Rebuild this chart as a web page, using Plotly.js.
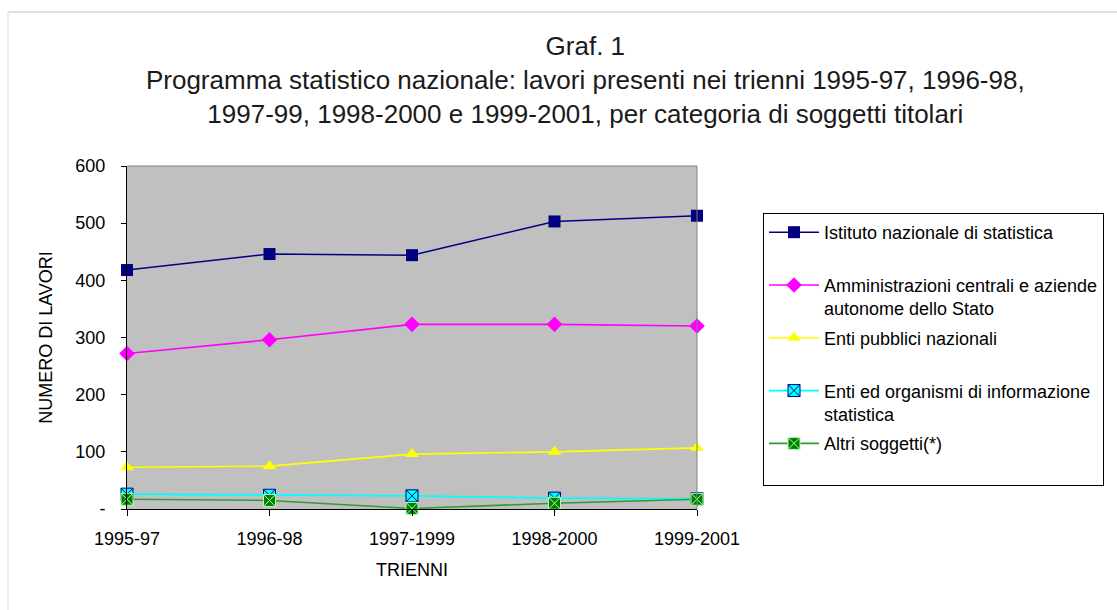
<!DOCTYPE html>
<html>
<head>
<meta charset="utf-8">
<script src="https://cdn.plot.ly/plotly-3.0.1.min.js"></script>
<style>
  html, body { margin: 0; padding: 0; background: #ffffff; }
  #chart { width: 1117px; height: 610px; }
</style>
</head>
<body>
<div id="chart"></div>
<script>
const categories = ['1995-97', '1996-98', '1997-1999', '1998-2000', '1999-2001'];
const istat = [418, 446, 444, 503, 513];
const amministrazioni = [272, 296, 323, 323, 320];
const entiPubblici = [73, 75, 96, 100, 107];
const entiInformazione = [26, 24, 23, 19, 18];
const altriSoggetti = [17, 15, 1, 10, 17];
const seriesNames = [
  'Istituto nazionale di statistica<br> ',
  'Amministrazioni centrali e aziende<br>autonome dello Stato',
  'Enti pubblici nazionali<br> ',
  'Enti ed organismi di informazione<br>statistica',
  'Altri soggetti(*)<br> '
];
const yTickVals = [0, 100, 200, 300, 400, 500, 600];
const yTickText = ['-', '100', '200', '300', '400', '500', '600'];

const FONT = 'Liberation Sans, Arial, Helvetica, sans-serif';
const xIdx = categories.map((c, i) => i);

function mk(y, name, group, lineColor, symbol, mColor, mLineColor, mLineW) {
  return {
    x: xIdx, y: y, name: name, type: 'scatter', mode: 'lines+markers',
    legendgroup: group, cliponaxis: false,
    line: { color: lineColor, width: 1.6 },
    marker: { symbol: symbol, size: 12, color: mColor, line: { color: mLineColor, width: mLineW } }
  };
}

const data = [
  mk(istat, seriesNames[0], 'g1', '#000080', 'square', '#000080', '#000080', 0),
  mk(amministrazioni, seriesNames[1], 'g2', '#ff00ff', 'diamond', '#ff00ff', '#ff00ff', 0),
  mk(entiPubblici, seriesNames[2], 'g3', '#ffff00', 'triangle-up', '#ffff00', '#ffff00', 0),
  mk(entiInformazione, seriesNames[3], 'g4', '#00ffff', 'square-x', '#00ffff', '#000080', 1),
  mk(altriSoggetti, seriesNames[4], 'g5', '#339933', 'square-x', '#008000', '#b0ffb0', 1)
];

const layout = {
  width: 1117, height: 610,
  paper_bgcolor: '#ffffff', plot_bgcolor: '#c0c0c0',
  margin: { l: 127, r: 420, t: 166, b: 101, autoexpand: false },
  font: { family: FONT, color: '#000000', size: 18 },
  title: {
    text: 'Graf. 1<br>Programma statistico nazionale: lavori presenti nei trienni 1995-97, 1996-98,<br>1997-99, 1998-2000 e 1999-2001, per categoria di soggetti titolari',
    font: { family: FONT, size: 26, color: '#1a1a1a' },
    xref: 'container', yref: 'container', x: 0.524, xanchor: 'center', y: 0.91, yanchor: 'top'
  },
  xaxis: {
    type: 'linear', range: [0, 4],
    tickvals: xIdx, ticktext: categories,
    ticks: 'outside', ticklen: 6, tickcolor: '#000000',
    showline: true, linecolor: '#000000', linewidth: 1,
    showgrid: false, zeroline: false,
    tickfont: { family: FONT, size: 18 },
    ticklabelstandoff: 7,
    title: { text: 'TRIENNI', font: { family: FONT, size: 18 }, standoff: 15 }
  },
  yaxis: {
    range: [0, 600], tickvals: yTickVals, ticktext: yTickText,
    ticks: 'outside', ticklen: 5, tickcolor: '#000000',
    showline: true, linecolor: '#000000', linewidth: 1,
    showgrid: false, zeroline: false,
    tickfont: { family: FONT, size: 18 },
    ticklabelstandoff: 12,
    title: { text: 'NUMERO DI LAVORI', font: { family: FONT, size: 18 }, standoff: 18 }
  },
  legend: {
    x: 1.1158, xanchor: 'left', y: 0.863, yanchor: 'top',
    xref: 'paper', yref: 'paper',
    bgcolor: '#ffffff', bordercolor: '#000000', borderwidth: 1,
    font: { family: FONT, size: 18 },
    tracegroupgap: 3, valign: 'top', itemwidth: 50
  },
  shapes: [
    { type: 'line', xref: 'paper', yref: 'paper', x0: 1, x1: 1, y0: 0, y1: 1, line: { color: '#808080', width: 1 } },
    { type: 'line', xref: 'paper', yref: 'paper', x0: 0, x1: 1, y0: 1, y1: 1, line: { color: '#808080', width: 1 } },
    { type: 'line', xref: 'paper', yref: 'paper', x0: -119/570, x1: 990/570, y0: 497/343, y1: 497/343, line: { color: '#e0e0e0', width: 2 } },
    { type: 'line', xref: 'paper', yref: 'paper', x0: -119/570, x1: -119/570, y0: 497/343, y1: -110/343, line: { color: '#eeeeee', width: 2 } }
  ],
  showlegend: true
};

Plotly.newPlot('chart', data, layout, { displayModeBar: false, staticPlot: true });
</script>
</body>
</html>
